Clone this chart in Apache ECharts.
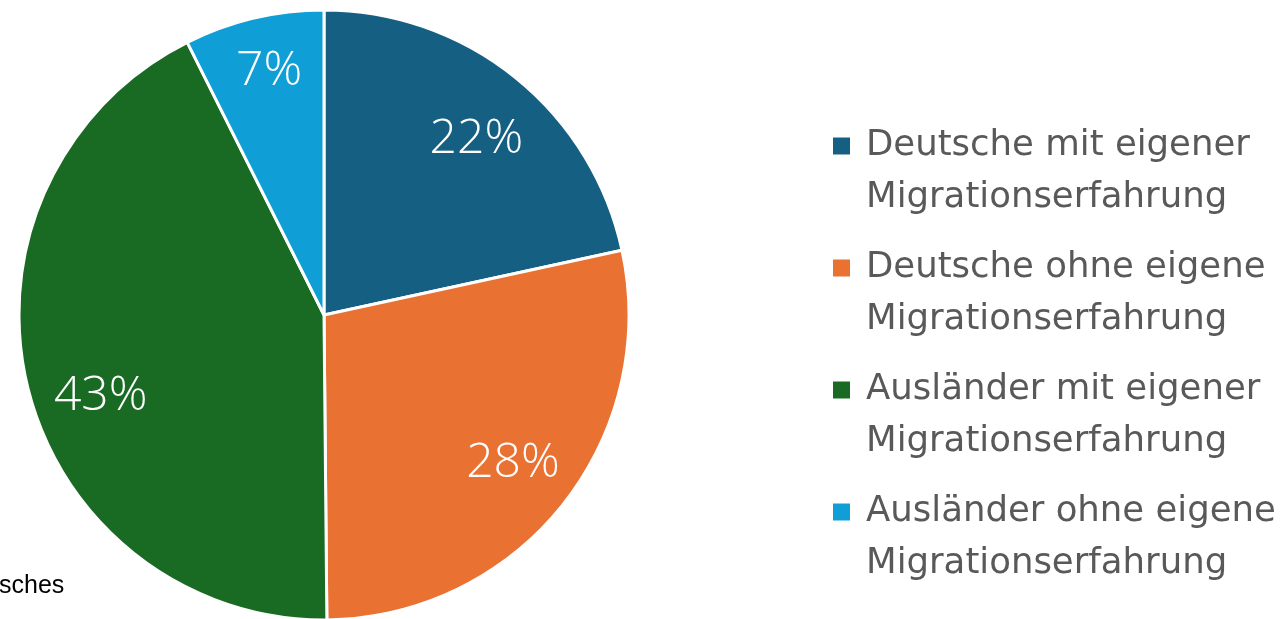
<!DOCTYPE html>
<html>
<head>
<meta charset="utf-8">
<script src="https://cdn.jsdelivr.net/npm/echarts@6/dist/echarts.min.js"></script>
<style>
  html, body { margin: 0; padding: 0; background: #fff; }
  #chart { width: 1286px; height: 619px; }
</style>
</head>
<body>
<div id="chart"></div>
<script>
const categories = [
  "Deutsche mit eigener Migrationserfahrung",
  "Deutsche ohne eigene Migrationserfahrung",
  "Ausländer mit eigener Migrationserfahrung",
  "Ausländer ohne eigene Migrationserfahrung",
];
const shares = [21.6, 28.25, 42.75, 7.4];
const colors = ["#156082", "#E97132", "#196B24", "#0F9ED5"];
const footnote = "sches";

// small nudges so the percent labels sit where the original placed them
const labelNudge = [[3, 10], [3, 0], [8, 25], [0, -12]];

const chart = echarts.init(document.getElementById("chart"));

const pieData = categories.map((name, i) => ({
  name,
  value: shares[i],
  itemStyle: { color: colors[i] },
}));

const option = {
  animation: false,
  legend: {
    orient: "vertical",
    left: 831,
    top: 68,
    padding: 0,
    itemGap: -34,
    itemWidth: 19,
    itemHeight: 19,
    icon: "rect",
    data: categories,
    // leading empty line so the marker sits next to the first text line
    formatter: name => "\n" + name.replace(/ (Migrationserfahrung)$/, "\n$1"),
    textStyle: {
      fontFamily: "DejaVu Sans",
      fontSize: 35.5,
      color: "#595959",
      lineHeight: 52,
      padding: [0, 0, 0, 10],
    },
  },
  graphic: [
    {
      type: "text",
      left: -1,
      top: 574,
      style: {
        text: footnote,
        font: "25px 'Liberation Sans'",
        fill: "#000",
      },
    },
  ],
  series: [
    {
      type: "pie",
      center: [324, 315],
      radius: [0, 305],
      startAngle: 90,
      clockwise: true,
      label: { show: false },
      labelLine: { show: false },
      itemStyle: { borderColor: "#fff", borderWidth: 3 },
      data: pieData,
    },
    {
      // transparent ring only to carry the percent labels at ~0.77R
      type: "pie",
      center: [324, 315],
      radius: [165, 305],
      startAngle: 90,
      clockwise: true,
      silent: true,
      legendHoverLink: false,
      itemStyle: { color: "transparent", borderWidth: 0 },
      label: {
        show: true,
        position: "inside",
        formatter: p => Math.round(p.value) + "%",
        color: "#fff",
        fontFamily: "Open Sans",
        fontWeight: 300,
        fontSize: 48,
      },
      labelLayout: params => {
        const n = labelNudge[params.dataIndex] || [0, 0];
        return { dx: n[0], dy: n[1] };
      },
      labelLine: { show: false },
      data: categories.map((name, i) => ({ name: name + " ", value: shares[i] })),
    },
  ],
};

chart.setOption(option);
</script>
</body>
</html>
